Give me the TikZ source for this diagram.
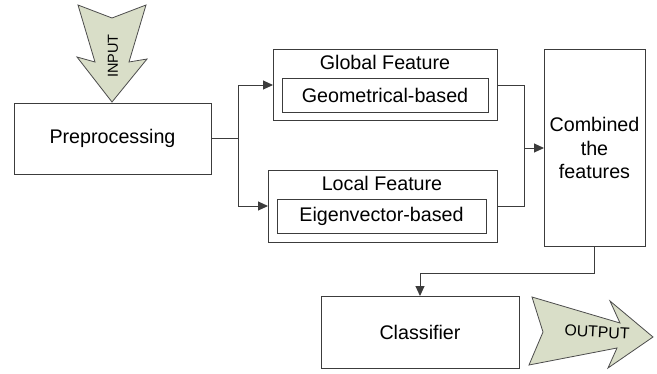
\documentclass[tikz,border=0pt]{standalone}
\usepackage{fontspec}
\setmainfont{Liberation Sans}
\usetikzlibrary{arrows.meta}
\definecolor{arrowfill}{RGB}{217,222,200}
\definecolor{lineclr}{RGB}{60,60,60}
\begin{document}
\begin{tikzpicture}[x=1pt,y=-1pt,
  boxstyle/.style={draw=lineclr,line width=1pt,fill=white,inner sep=0pt},
  bigtext/.style={font=\fontsize{19.7}{23.5}\selectfont,inner sep=0pt,align=center},
  conn/.style={draw=lineclr,line width=1pt},
  arr/.style={conn,-{Triangle[length=10pt,width=9pt]}},
  fatarrow/.style={draw=black!70,line width=0.8pt,fill=arrowfill,line join=miter}
]
\useasboundingbox (0,0) rectangle (657,373);

% Preprocessing
\draw[boxstyle] (14,103) rectangle (211,174);
\node[bigtext] (pre) at (112.5,138.5) {Preprocessing};
\coordinate (preR) at (211,138);

% Global feature
\draw[boxstyle] (273,49) rectangle (497,120);
\draw[boxstyle] (282,78) rectangle (488,112);
\node[bigtext] (glob) at (385,62) {Global Feature};
\node[bigtext] (geo) at (385,95) {Geometrical-based};
\coordinate (globL) at (273,85);
\coordinate (globR) at (497,85);

% Local feature
\draw[boxstyle] (268,170) rectangle (497,242);
\draw[boxstyle] (277,199) rectangle (486,233);
\node[bigtext] (loc) at (382,183) {Local Feature};
\node[bigtext] (eig) at (381.5,216) {Eigenvector-based};
\coordinate (locL) at (268,206);
\coordinate (locR) at (497,206);

% Combined
\draw[boxstyle] (544,49) rectangle (645,246);
\node[bigtext] (comb) at (594.5,148) {Combined\\the\\features};
\coordinate (combL) at (544,148);
\coordinate (combB) at (594,246);

% Classifier
\draw[boxstyle] (321,296) rectangle (519,368);
\node[bigtext] (cls) at (420,332) {Classifier};
\coordinate (clsT) at (420,296);

% connectors
\coordinate (split) at (238,138);
\draw[conn] (preR) -- (split);
\draw[arr] (split) |- (globL);
\draw[arr] (split) |- (locL);
\coordinate (join) at (524,148);
\draw[conn] (globR) -| (join);
\draw[conn] (locR) -| (join);
\draw[arr] (join) -- (combL);
\coordinate (turn) at (594,273);
\draw[arr] (combB) -- (turn) -| (clsT);

% INPUT arrow
\draw[fatarrow] (78,5) -- (112,18) -- (146,5) -- (129,62) -- (147,59) -- (112,102) -- (77,57) -- (95,62) -- cycle;
\node[font=\fontsize{14.5}{17}\selectfont,rotate=90,inner sep=0pt] (in) at (113,56) {INPUT};

% OUTPUT arrow
\draw[fatarrow] (532,297) -- (620,323) -- (610,301) -- (653,337) -- (608,368) -- (617,348) -- (529,365) -- (543,332) -- cycle;
\node[font=\fontsize{15.8}{18}\selectfont,rotate=-3,inner sep=0pt] (out) at (597,332) {OUTPUT};
\end{tikzpicture}
\end{document}
